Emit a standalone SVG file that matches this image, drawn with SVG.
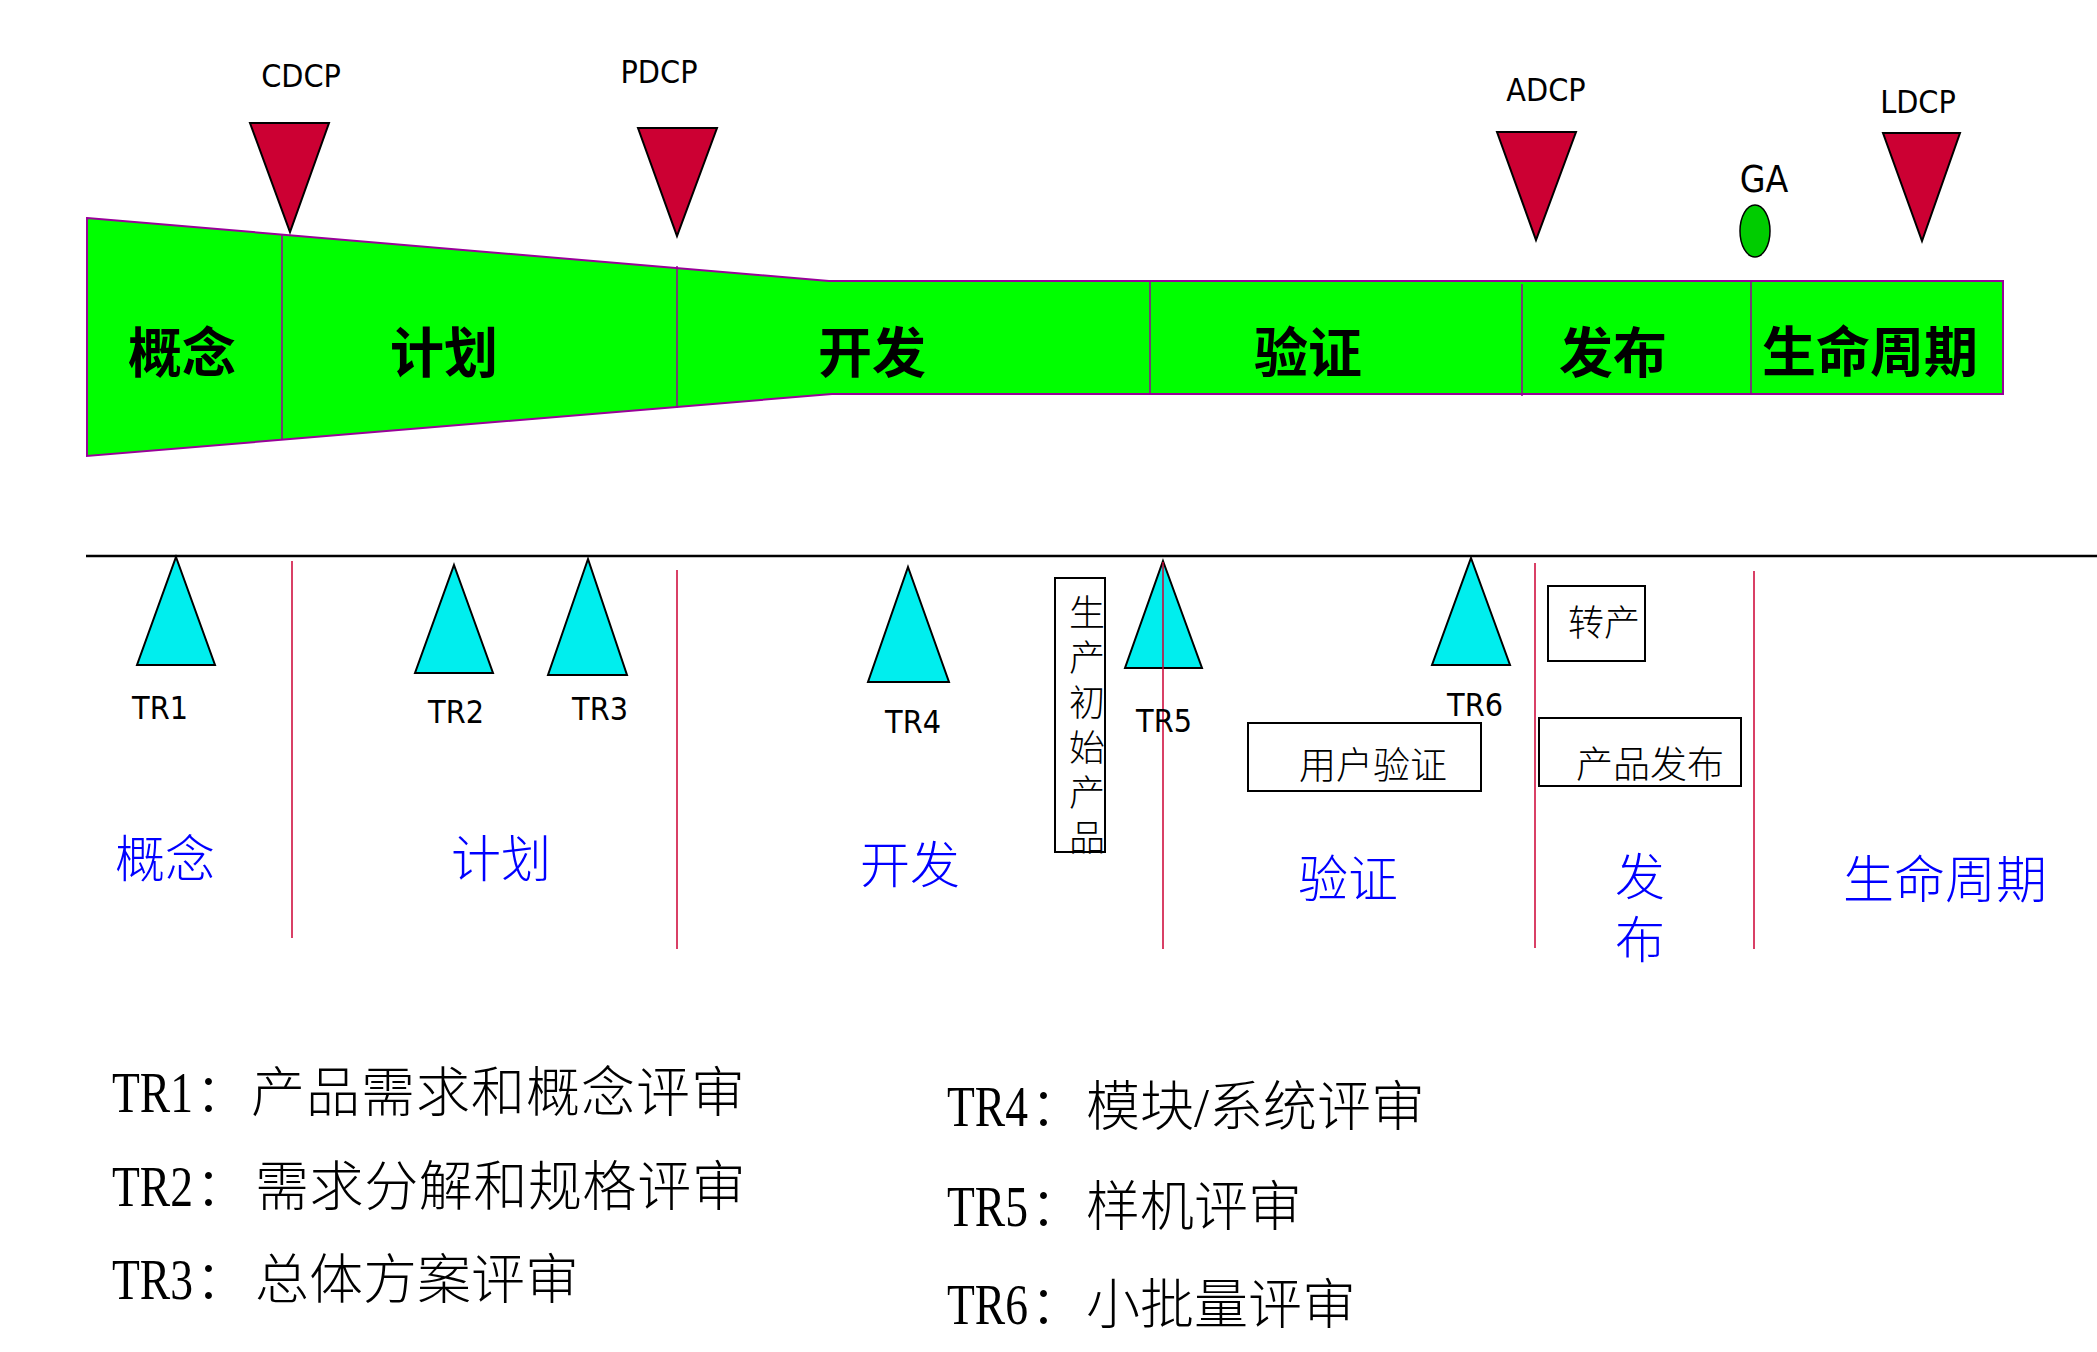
<svg xmlns="http://www.w3.org/2000/svg" width="2097" height="1352" viewBox="0 0 2097 1352">
<style>
.dcp{fill:#CC0033;stroke:#000;stroke-width:2;stroke-linejoin:miter}
.tr{fill:#00EEEE;stroke:#000;stroke-width:2}
.lat{font-family:"DejaVu Sans Condensed","DejaVu Sans",sans-serif;font-size:32px;fill:#000;text-anchor:middle}
.band{font-family:"Noto Sans CJK SC",sans-serif;font-size:54px;font-weight:700;fill:#000;text-anchor:middle}
.blue{font-family:"Noto Sans CJK SC",sans-serif;font-size:50px;font-weight:300;fill:#0000FF;text-anchor:middle}
.box{fill:#fff;stroke:#000;stroke-width:2}
.bt{font-family:"Noto Sans CJK SC",sans-serif;font-size:36px;font-weight:300;fill:#000;text-anchor:middle}
.leg{font-family:"Liberation Serif","Noto Sans CJK SC",serif;font-size:54px;font-weight:300;fill:#000}
.div{stroke:#990099;stroke-width:1.5;fill:none}
.red{stroke:#CC0033;stroke-width:1.5;fill:none}
</style>
<rect width="2097" height="1352" fill="#fff"/>

<g id="band">
<polygon points="87,218 829,281 2003,281 2003,394 832,394 87,456" fill="#00FF00" stroke="#990099" stroke-width="2"/>
<line class="div" x1="282" y1="235" x2="282" y2="439"/>
<line class="div" x1="677" y1="266" x2="677" y2="408"/>
<line class="div" x1="1150" y1="281" x2="1150" y2="394"/>
<line class="div" x1="1522" y1="284" x2="1522" y2="396"/>
<line class="div" x1="1751" y1="281" x2="1751" y2="394"/>
<text class="band" x="182" y="373">概念</text>
<text class="band" x="444" y="373">计划</text>
<text class="band" x="872" y="373">开发</text>
<text class="band" x="1308" y="373">验证</text>
<text class="band" x="1613" y="373">发布</text>
<text class="band" x="1870" y="372">生命周期</text>
</g>

<g id="cdcp">
<polygon class="dcp" points="250,123 329,123 290,232"/>
<text class="lat" x="301" y="87">CDCP</text>
</g>
<g id="pdcp">
<polygon class="dcp" points="638,128 717,128 677,236"/>
<text class="lat" x="659" y="83">PDCP</text>
</g>
<g id="adcp">
<polygon class="dcp" points="1497,132 1576,132 1536,240"/>
<text class="lat" x="1546" y="101">ADCP</text>
</g>
<g id="ldcp">
<polygon class="dcp" points="1883,133 1960,133 1922,241"/>
<text class="lat" x="1918" y="113">LDCP</text>
</g>
<g id="ga">
<ellipse cx="1755" cy="231" rx="15" ry="26" fill="#00CC00" stroke="#000" stroke-width="1.5"/>
<text class="lat" x="1764" y="192" style="font-size:37px">GA</text>
</g>

<g id="connectors">
<line x1="86" y1="556" x2="2097" y2="556" stroke="#000" stroke-width="2.5"/>
<line class="red" x1="292" y1="561" x2="292" y2="938"/>
<line class="red" x1="677" y1="570" x2="677" y2="949"/>
<line class="red" x1="1535" y1="563" x2="1535" y2="948"/>
<line class="red" x1="1754" y1="571" x2="1754" y2="949"/>
</g>

<g id="tr1">
<polygon class="tr" points="176,557 215,665 137,665"/>
<text class="lat" x="160" y="719">TR1</text>
</g>
<g id="tr2">
<polygon class="tr" points="454,565 493,673 415,673"/>
<text class="lat" x="456" y="723">TR2</text>
</g>
<g id="tr3">
<polygon class="tr" points="588,559 627,675 548,675"/>
<text class="lat" x="600" y="720">TR3</text>
</g>
<g id="tr4">
<polygon class="tr" points="908,567 949,682 868,682"/>
<text class="lat" x="913" y="733">TR4</text>
</g>
<g id="tr5">
<polygon class="tr" points="1163,561 1202,668 1125,668"/>
<line class="red" x1="1163" y1="562" x2="1163" y2="949"/>
<text class="lat" x="1164" y="732">TR5</text>
</g>
<g id="tr6">
<polygon class="tr" points="1471,558 1510,665 1432,665"/>
<text class="lat" x="1475" y="716">TR6</text>
</g>

<g id="box-initial">
<rect class="box" x="1055" y="578" width="50" height="274"/>
<text class="bt"><tspan x="1087" y="626">生</tspan><tspan x="1087" y="671">产</tspan><tspan x="1087" y="716">初</tspan><tspan x="1087" y="761">始</tspan><tspan x="1087" y="806">产</tspan><tspan x="1087" y="851">品</tspan></text>
</g>
<g id="box-zhuanchan">
<rect class="box" x="1548" y="586" width="97" height="75"/>
<text class="bt" x="1604" y="636">转产</text>
</g>
<g id="box-user">
<rect class="box" x="1248" y="723" width="233" height="68"/>
<text class="bt" x="1373" y="779" style="font-size:37px">用户验证</text>
</g>
<g id="box-release">
<rect class="box" x="1539" y="718" width="202" height="68"/>
<text class="bt" x="1650" y="778" style="font-size:37px">产品发布</text>
</g>

<g id="phase-labels">
<text class="blue" x="165" y="877">概念</text>
<text class="blue" x="501" y="877">计划</text>
<text class="blue" x="910" y="883">开发</text>
<text class="blue" x="1348" y="897">验证</text>
<text class="blue"><tspan x="1640" y="895">发</tspan><tspan x="1640" y="958">布</tspan></text>
<text class="blue" x="1945" y="898" style="font-size:51px">生命周期</text>
</g>

<g id="legend">
<text class="leg" y="1112"><tspan x="112" textLength="81" lengthAdjust="spacingAndGlyphs" font-size="56">TR1</tspan><tspan x="195">：</tspan><tspan x="251" letter-spacing="1">产品需求和概念评审</tspan></text>
<text class="leg" y="1206"><tspan x="112" textLength="81" lengthAdjust="spacingAndGlyphs" font-size="56">TR2</tspan><tspan x="195">：</tspan><tspan x="255" letter-spacing="0.6">需求分解和规格评审</tspan></text>
<text class="leg" y="1299"><tspan x="112" textLength="81" lengthAdjust="spacingAndGlyphs" font-size="56">TR3</tspan><tspan x="195">：</tspan><tspan x="255">总体方案评审</tspan></text>
<text class="leg" y="1126"><tspan x="947" textLength="81" lengthAdjust="spacingAndGlyphs" font-size="56">TR4</tspan><tspan x="1030">：</tspan><tspan x="1086">模块/系统评审</tspan></text>
<text class="leg" y="1226"><tspan x="947" textLength="81" lengthAdjust="spacingAndGlyphs" font-size="56">TR5</tspan><tspan x="1030">：</tspan><tspan x="1086">样机评审</tspan></text>
<text class="leg" y="1324"><tspan x="947" textLength="81" lengthAdjust="spacingAndGlyphs" font-size="56">TR6</tspan><tspan x="1030">：</tspan><tspan x="1086">小批量评审</tspan></text>
</g>
</svg>
